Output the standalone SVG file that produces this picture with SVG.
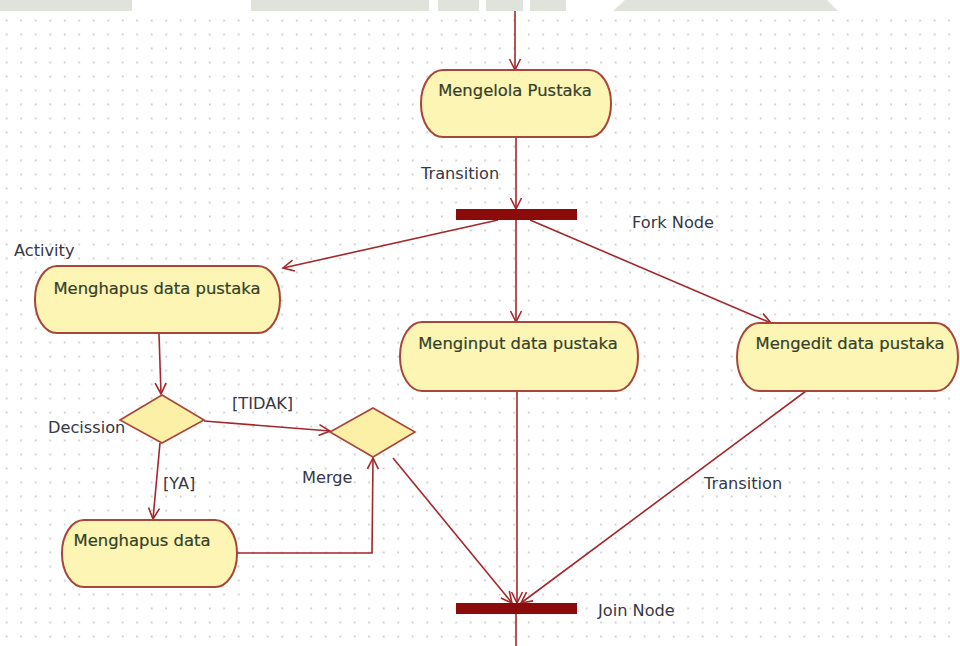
<svg xmlns="http://www.w3.org/2000/svg" width="960" height="646" viewBox="0 0 960 646">
  <style>
    .act rect { fill: #fcf5b4; stroke: #a8463a; stroke-width: 2; }
    .dec polygon { fill: #fcefa6; stroke: #a8463a; stroke-width: 1.6; }
    .bar { fill: #8b0a0a; }
    .ntext { font-family: "DejaVu Sans", Verdana, sans-serif; font-size: 16.4px; fill: #34412a; text-anchor: middle; stroke: #34412a; stroke-width: 0.2; }
    .lbl { font-family: "DejaVu Sans", Verdana, sans-serif; font-size: 16.2px; fill: #363846; }
    #edges path, #edges line, #edges polyline { fill: none; stroke: #a3272b; stroke-width: 1.6; marker-end: url(#arr); }
    .plain { marker-end: none !important; }
    .band { fill: #dfe3dc; }
  </style>
  <defs>
    <pattern id="grid" x="0" y="0" width="14.5" height="14" patternUnits="userSpaceOnUse">
      <rect x="6" y="5.5" width="1.4" height="2" fill="#c2c2c2"/>
    </pattern>
    <marker id="arr" viewBox="-12 -7 14 14" refX="0" refY="0" markerWidth="14" markerHeight="14" markerUnits="userSpaceOnUse" orient="auto">
      <path d="M -11 -5.5 L 0 0 L -11 5.5" fill="none" stroke="#a3272b" stroke-width="1.6"/>
    </marker>
  </defs>

  <!-- canvas -->
  <rect width="960" height="646" fill="#ffffff"/>
  <rect x="0" y="14" width="960" height="632" fill="url(#grid)"/>

  <!-- top band -->
  <g id="band">
    <rect class="band" x="0" y="0" width="132" height="11"/>
    <rect class="band" x="251" y="0" width="178" height="11"/>
    <rect class="band" x="438" y="0" width="41" height="11"/>
    <rect class="band" x="486" y="0" width="37" height="11"/>
    <rect class="band" x="530" y="0" width="36" height="11"/>
    <polygon class="band" points="625,0 827,0 838,11 613,11"/>
  </g>

  <!-- connectors -->
  <g id="edges">
    <path d="M 515 11 L 515 70"/>
    <line x1="516" y1="137" x2="516" y2="209"/>
    <line x1="498" y1="220" x2="283" y2="268"/>
    <line x1="516" y1="220" x2="516" y2="322"/>
    <line x1="530" y1="220" x2="771" y2="323"/>
    <line x1="159" y1="334" x2="161" y2="394"/>
    <line x1="204" y1="421" x2="330" y2="431"/>
    <line x1="160" y1="443" x2="153" y2="519"/>
    <polyline points="237,553 372,553 373,458"/>
    <line x1="393" y1="458" x2="512" y2="603"/>
    <line x1="517" y1="391" x2="517" y2="603"/>
    <line x1="806" y1="391" x2="521" y2="603"/>
    <line class="plain" x1="516" y1="614" x2="516" y2="646"/>
  </g>

  <!-- activity nodes -->
  <g id="mengelola" class="act">
    <rect x="421" y="70" width="190" height="67" rx="22" ry="33"/>
    <text class="ntext" x="515" y="96">Mengelola Pustaka</text>
  </g>
  <g id="menghapus-pustaka" class="act">
    <rect x="35" y="266" width="245" height="67" rx="22" ry="33"/>
    <text class="ntext" x="157" y="294">Menghapus data pustaka</text>
  </g>
  <g id="menginput" class="act">
    <rect x="400" y="322" width="238" height="69" rx="22" ry="34"/>
    <text class="ntext" x="518" y="349">Menginput data pustaka</text>
  </g>
  <g id="mengedit" class="act">
    <rect x="737" y="323" width="221" height="68" rx="22" ry="34"/>
    <text class="ntext" x="850" y="349">Mengedit data pustaka</text>
  </g>
  <g id="menghapus-data" class="act">
    <rect x="62" y="520" width="175" height="67" rx="22" ry="33"/>
    <text class="ntext" x="142" y="546">Menghapus data</text>
  </g>

  <!-- control nodes -->
  <g id="fork">
    <rect class="bar" x="456" y="209" width="121" height="11"/>
  </g>
  <g id="join">
    <rect class="bar" x="456" y="603" width="121" height="11"/>
  </g>
  <g id="decision" class="dec">
    <polygon points="120,420 162,395 204,420 162,443"/>
  </g>
  <g id="merge" class="dec">
    <polygon points="330,432 373,408 415,432 373,457"/>
  </g>

  <!-- labels -->
  <g id="labels">
    <text class="lbl" x="421" y="179">Transition</text>
    <text class="lbl" x="632" y="228">Fork Node</text>
    <text class="lbl" x="14" y="256">Activity</text>
    <text class="lbl" x="232" y="409">[TIDAK]</text>
    <text class="lbl" x="48" y="433">Decission</text>
    <text class="lbl" x="163" y="489">[YA]</text>
    <text class="lbl" x="302" y="483">Merge</text>
    <text class="lbl" x="704" y="489">Transition</text>
    <text class="lbl" x="598" y="616">Join Node</text>
  </g>
</svg>
